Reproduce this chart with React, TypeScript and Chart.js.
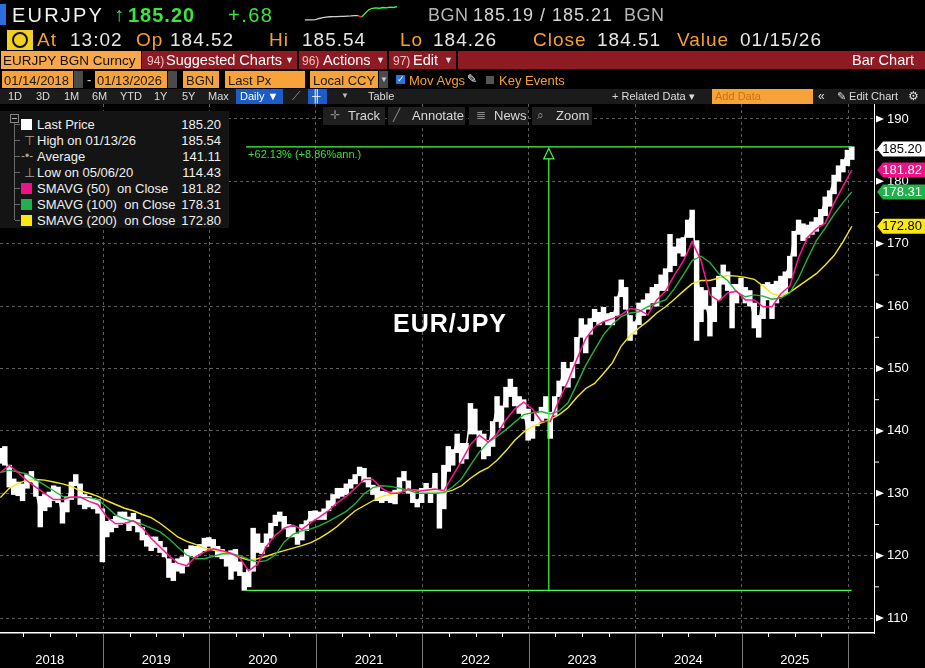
import React, { useEffect, useRef } from "react";
import Chart from "chart.js/auto";

const FONT = "'Liberation Sans', Arial, sans-serif";
const ORANGE = "#f6a02e";
const FIELD = "#f7a33a";
const MAGENTA = "#ff1493";
const GREEN = "#1fb33f";
const YELLOW = "#f7e81c";
const LINE_GREEN = "#45ff45";

// last price, sampled twice a month from 01/14/2018 to 01/13/2026
const PRICE_START = 2018 + 13 / 365;
const lastPx = [
  135.5, 136.3, 132.5, 130.6, 130.8, 130.6, 132.4, 132.6, 130.4, 126.8, 128.8, 128.8,
  130.0, 129.5, 126.5, 128.5, 131.2, 132.2, 129.8, 129.0, 128.5, 128.3, 127.7, 126.5,
  124.3, 124.8, 125.3, 125.9, 126.2, 125.2, 126.0, 124.8, 123.3, 122.4, 122.2, 122.2,
  121.3, 120.5, 118.4, 117.7, 118.5, 118.2, 120.0, 120.8, 120.8, 121.2, 121.8, 122.3,
  121.8, 120.6, 120.3, 119.5, 118.0, 119.5, 117.5, 116.2, 115.8, 119.5, 122.0, 121.0,
  122.5, 124.5, 125.6, 126.2, 125.0, 124.2, 123.8, 122.6, 124.1, 125.2, 126.6, 126.8,
  126.5, 126.8, 128.1, 129.3, 130.0, 130.3, 131.1, 131.6, 132.2, 133.7, 132.9, 131.6,
  130.5, 130.0, 129.7, 129.5, 129.5, 129.0, 131.6, 132.9, 131.1, 129.5, 128.4, 130.0,
  131.1, 130.0, 132.1, 128.9, 129.5, 136.4, 136.1, 138.5, 136.4, 137.2, 142.3, 141.0,
  138.5, 137.0, 137.5, 140.7, 143.9, 142.3, 146.0, 147.1, 145.2, 144.4, 143.1, 139.6,
  140.7, 142.3, 142.8, 143.5, 141.5, 144.4, 147.1, 149.5, 148.5, 150.3, 152.5, 157.3,
  155.0, 157.3, 158.9, 158.3, 158.3, 157.8, 157.8, 161.0, 163.2, 161.0, 156.5, 156.7,
  159.5, 159.4, 160.5, 162.0, 161.0, 164.0, 163.7, 168.0, 168.5, 170.1, 169.8, 173.3,
  174.7, 166.0, 160.5, 160.5, 157.3, 160.5, 164.2, 165.8, 163.7, 161.0, 162.1, 163.2,
  161.6, 161.0, 158.0, 157.0, 162.6, 162.6, 161.0, 162.1, 162.6, 164.8, 166.9, 171.2,
  173.0, 172.2, 172.2, 172.8, 173.3, 174.9, 176.8, 178.0, 180.3, 181.6, 182.9, 184.5,
  185.2,
];
// lows and highs of the same half-month periods
const pxLow = [
  134.8, 134.5, 131.0, 129.8, 129.6, 128.8, 130.8, 131.8, 129.5, 124.6, 127.2, 127.8,
  128.8, 128.5, 125.2, 127.0, 129.0, 131.2, 128.2, 127.5, 127.8, 127.5, 126.8, 119.0,
  123.0, 123.8, 124.5, 125.0, 125.2, 124.0, 124.8, 123.8, 122.5, 121.5, 120.8, 121.3,
  120.5, 119.8, 116.5, 116.0, 117.5, 117.2, 118.3, 120.0, 119.8, 120.3, 120.8, 121.5,
  121.0, 119.8, 119.5, 118.3, 116.2, 117.5, 116.8, 114.43, 115.0, 117.5, 120.5, 120.3,
  121.5, 122.8, 124.8, 125.5, 124.3, 123.0, 123.0, 121.8, 122.5, 124.0, 125.5, 125.8,
  125.8, 125.8, 127.2, 128.0, 129.2, 129.5, 129.8, 130.8, 131.5, 132.8, 131.8, 131.0,
  129.8, 128.8, 128.5, 128.8, 128.5, 128.3, 130.3, 132.0, 130.0, 128.5, 127.8, 128.5,
  130.0, 128.5, 130.0, 124.4, 127.5, 133.5, 134.5, 136.5, 134.8, 135.5, 139.5, 139.5,
  137.5, 135.5, 136.0, 137.5, 141.5, 140.5, 143.8, 145.5, 144.0, 142.8, 142.0, 138.5,
  138.8, 140.8, 141.5, 142.0, 138.8, 142.5, 145.5, 147.2, 147.0, 148.5, 150.8, 155.0,
  152.5, 155.5, 157.5, 157.0, 157.5, 157.0, 157.0, 158.5, 161.5, 159.5, 154.5, 155.5,
  157.0, 158.5, 159.5, 160.5, 160.0, 162.5, 162.5, 165.5, 166.5, 168.5, 168.0, 171.0,
  171.0, 154.5, 157.5, 159.5, 155.2, 157.5, 161.0, 163.5, 162.5, 156.5, 160.5, 161.8,
  160.5, 160.0, 156.5, 155.0, 158.0, 161.0, 158.0, 160.5, 161.5, 162.0, 164.5, 168.0,
  171.5, 170.5, 171.0, 171.5, 172.0, 173.0, 174.5, 176.0, 178.0, 180.0, 181.5, 182.5,
  183.5,
];
const pxHigh = [
  137.2, 137.5, 134.5, 132.3, 131.8, 131.5, 133.0, 133.5, 132.0, 129.5, 129.8, 130.2,
  131.2, 131.0, 128.5, 129.5, 131.8, 133.0, 131.5, 129.8, 129.5, 129.2, 129.0, 127.5,
  125.5, 125.8, 126.3, 127.0, 127.0, 126.2, 126.8, 125.8, 124.5, 123.3, 123.0, 123.0,
  122.3, 121.3, 119.5, 118.8, 119.5, 119.8, 121.0, 121.6, 121.5, 121.8, 122.8, 122.9,
  122.6, 121.5, 121.0, 120.5, 120.8, 121.0, 119.0, 117.3, 117.8, 124.4, 123.5, 122.0,
  123.5, 125.2, 126.5, 127.0, 126.3, 125.0, 124.6, 123.5, 125.0, 125.6, 127.1, 127.2,
  127.0, 127.5, 128.8, 129.8, 130.8, 130.8, 131.5, 132.2, 133.0, 134.2, 134.0, 132.5,
  131.3, 131.0, 130.3, 130.2, 130.2, 130.5, 132.5, 133.5, 132.0, 130.5, 129.0, 130.8,
  131.6, 130.8, 133.2, 130.5, 134.5, 137.5, 137.0, 139.5, 138.0, 138.0, 144.4, 143.5,
  140.0, 139.5, 138.5, 141.5, 145.5, 144.0, 147.0, 148.3, 147.0, 145.5, 145.0, 143.5,
  141.5, 142.8, 143.8, 145.5, 143.0, 145.5, 148.0, 151.0, 150.0, 151.0, 155.0, 158.0,
  157.0, 158.0, 159.5, 159.0, 159.8, 158.8, 159.0, 161.5, 164.2, 163.0, 158.5, 157.5,
  160.5, 161.0, 162.0, 163.0, 163.5, 165.0, 166.0, 171.5, 169.5, 170.8, 171.0, 173.8,
  175.4, 170.5, 163.0, 162.5, 160.0, 163.0, 164.8, 166.6, 165.5, 163.5, 163.5, 164.5,
  163.0, 162.5, 160.5, 158.5, 163.5, 163.8, 163.5, 164.0, 164.8, 165.5, 168.0, 172.0,
  173.8, 173.2, 173.0, 173.5, 174.2, 175.5, 177.5, 178.5, 181.0, 182.5, 183.5, 185.0,
  185.54,
];

// moving averages, sampled monthly from the same start
const sma50 = [
  133.3, 134.5, 133.3, 132.0, 131.0, 130.0, 129.0, 129.0, 129.4, 129.4, 128.7, 128.2,
  126.2, 125.1, 125.2, 125.6, 124.5, 122.8, 121.4, 120.0, 118.8, 118.4, 119.8, 120.6,
  121.1, 120.8, 120.4, 119.6, 117.6, 118.6, 121.5, 123.3, 124.4, 124.9, 124.2, 125.3,
  126.2, 127.2, 128.5, 129.5, 130.8, 132.2, 132.2, 130.8, 130.0, 130.0, 130.7, 130.3,
  130.5, 130.7, 130.4, 132.8, 135.2, 137.8, 139.3, 138.2, 139.5, 141.8, 143.5, 144.6,
  143.5, 141.5, 141.5, 145.0, 148.0, 151.5, 154.8, 156.7, 157.5, 158.0, 158.6, 159.6,
  159.4, 158.6, 161.0, 162.4, 165.0, 167.2, 170.3, 167.3, 161.8, 160.8, 162.1, 162.4,
  161.0, 161.0, 159.9, 159.9, 162.0, 163.2, 167.8, 171.0, 172.4, 173.3, 176.5, 179.2,
  181.82,
];
const sma100 = [
  133.3, 133.7, 133.4, 133.1, 132.2, 131.3, 130.4, 129.5, 129.3, 129.3, 129.3, 129.0,
  127.8, 126.5, 125.9, 125.5, 125.0, 124.4, 123.8, 122.7, 121.4, 120.1, 119.5, 119.5,
  119.9, 120.3, 120.3, 120.0, 119.4, 119.0, 119.2, 120.1, 122.2, 123.4, 124.0, 124.3,
  124.8, 125.5, 126.3, 127.1, 128.3, 129.9, 130.9, 131.2, 131.1, 130.8, 130.5, 130.0,
  130.0, 130.0, 130.1, 131.0, 132.3, 134.5, 136.6, 138.2, 139.1, 140.2, 141.4, 142.6,
  142.9, 143.1, 142.7, 143.2, 144.5, 147.5, 150.5, 153.0, 155.4, 157.1, 158.3, 158.9,
  159.1, 159.9, 160.5, 161.0, 162.8, 165.0, 167.3, 168.0, 167.0, 165.2, 164.1, 162.3,
  161.5, 161.8, 161.6, 161.1, 161.3, 162.1, 164.5, 167.6, 170.5, 172.5, 174.7, 176.6,
  178.31,
];
const sma200 = [
  129.3, 130.8, 131.6, 132.1, 132.2, 132.1, 131.8, 131.5, 131.1, 130.4, 130.0, 129.5,
  128.8, 128.2, 127.6, 127.2, 126.6, 126.1, 125.2, 124.1, 123.0, 122.3, 121.8, 121.2,
  120.9, 120.6, 120.3, 119.7, 119.3, 119.5, 119.9, 120.4, 120.8, 121.2, 121.6, 122.1,
  122.8, 123.7, 124.7, 126.0, 127.2, 128.0, 128.8, 129.5, 129.8, 130.2, 130.5, 130.5,
  130.5, 130.3, 130.1, 130.5, 131.2, 132.4, 133.4, 134.1, 135.3, 136.8, 138.5, 139.8,
  140.7, 141.3, 141.8, 142.6, 143.7, 145.4, 146.8, 147.6, 149.2, 150.9, 153.6, 155.3,
  156.5, 157.6, 158.9, 159.9, 161.1, 162.4, 163.6, 164.1, 164.1, 164.5, 164.9, 164.8,
  164.6, 164.3, 163.2, 162.0, 161.6, 162.2, 163.2, 164.2, 165.2, 166.6, 168.1, 170.3,
  172.8,
];

// intraday sparkline in the header
const spark = [
  184.37, 184.37, 184.38, 184.4, 184.5, 184.57, 184.63, 184.66, 184.67, 184.67, 184.7,
  184.7, 184.72, 184.73, 184.77, 184.77, 184.63, 184.97, 185.3, 185.43, 185.47, 185.43,
  185.5, 185.47, 185.53, 185.5, 185.57,
];
const sparkRedFrom = 15;
const sparkGreenFrom = 16;

const yTicks = [110, 120, 130, 140, 150, 160, 170, 180, 190];
const years = [2018, 2019, 2020, 2021, 2022, 2023, 2024, 2025];
const yearLines = [2019, 2020, 2021, 2022, 2023, 2024, 2025, 2026];

const lowDate = 2020 + 126 / 366;
const highDate = 2026 + 12 / 365;
const periodLow = 114.43;
const periodHigh = 185.54;
const changeText = "+62.13% (+8.86%ann.)";

const tags = [
  { value: 185.2, text: "185.20", bg: "#ffffff", fg: "#000000" },
  { value: 181.82, text: "181.82", bg: "#ec1387", fg: "#ffffff" },
  { value: 178.31, text: "178.31", bg: "#22b04a", fg: "#ffffff" },
  { value: 172.8, text: "172.80", bg: "#fbe80f", fg: "#000000" },
];

const legendRows = [
  { label: "Last Price", value: "185.20", icon: "#ffffff" },
  { label: "High on 01/13/26", value: "185.54", icon: "high" },
  { label: "Average", value: "141.11", icon: "avg" },
  { label: "Low on 05/06/20", value: "114.43", icon: "low" },
  { label: "SMAVG (50)  on Close", value: "181.82", icon: "#ec1387" },
  { label: "SMAVG (100)  on Close", value: "178.31", icon: "#22b04a" },
  { label: "SMAVG (200)  on Close", value: "172.80", icon: "#fbe80f" },
];

const decorPlugin = {
  id: "bbgDecor",
  afterDatasetsDraw(chart: any) {
    const { ctx, scales } = chart;
    const xs = scales.x;
    const ys = scales.y;
    const xa = xs.getPixelForValue(lowDate);
    const xb = xs.getPixelForValue(highDate);
    const ya = ys.getPixelForValue(periodLow);
    const yb = ys.getPixelForValue(periodHigh);
    const xm = (xa + xb) / 2;
    ctx.save();
    ctx.strokeStyle = LINE_GREEN;
    ctx.lineWidth = 1.2;
    ctx.beginPath();
    ctx.moveTo(xa, ya);
    ctx.lineTo(xb, ya);
    ctx.moveTo(xa, yb);
    ctx.lineTo(xb, yb);
    ctx.moveTo(xm, ya);
    ctx.lineTo(xm, yb + 12);
    ctx.stroke();
    ctx.beginPath();
    ctx.moveTo(xm - 5, yb + 12);
    ctx.lineTo(xm, yb + 1.5);
    ctx.lineTo(xm + 5, yb + 12);
    ctx.closePath();
    ctx.stroke();
    ctx.fillStyle = "#38e038";
    ctx.font = `11px ${FONT}`;
    ctx.textBaseline = "top";
    ctx.fillText(changeText, xa + 2, yb + 3);
    ctx.restore();
  },
  afterDraw(chart: any) {
    const { ctx, chartArea: ca, scales, width, height } = chart;
    const xs = scales.x;
    const ys = scales.y;
    ctx.save();

    // right axis markers
    ctx.fillStyle = "#ffffff";
    ctx.strokeStyle = "#ffffff";
    ctx.lineWidth = 1;
    yTicks.forEach((v) => {
      const py = ys.getPixelForValue(v);
      ctx.beginPath();
      ctx.moveTo(ca.right + 2, py - 3.5);
      ctx.lineTo(ca.right + 10, py);
      ctx.lineTo(ca.right + 2, py + 3.5);
      ctx.closePath();
      ctx.fill();
      const pm = ys.getPixelForValue(v + 5);
      if (pm > ca.top) {
        ctx.beginPath();
        ctx.moveTo(ca.right, pm);
        ctx.lineTo(ca.right + 5, pm);
        ctx.stroke();
      }
    });

    // bottom axis: year separators, quarter ticks, labels
    ctx.strokeStyle = "#7a7a7a";
    yearLines.forEach((t) => {
      const px = Math.round(xs.getPixelForValue(t)) + 0.5;
      ctx.beginPath();
      ctx.moveTo(px, ca.bottom);
      ctx.lineTo(px, height);
      ctx.stroke();
    });
    ctx.strokeStyle = "#ffffff";
    years.concat([2026]).forEach((yr) => {
      [0.25, 0.5, 0.75].forEach((q) => {
        const px = Math.round(xs.getPixelForValue(yr + q)) + 0.5;
        if (px < ca.left || px > ca.right) return;
        ctx.beginPath();
        ctx.moveTo(px, ca.bottom);
        ctx.lineTo(px, ca.bottom + 4);
        ctx.stroke();
      });
    });
    ctx.fillStyle = "#ffffff";
    ctx.font = `13px ${FONT}`;
    ctx.textAlign = "center";
    ctx.textBaseline = "middle";
    years.forEach((yr) => {
      ctx.fillText(String(yr), xs.getPixelForValue(yr + 0.5), ca.bottom + 27);
    });

    // value tags on the right axis
    ctx.textAlign = "right";
    ctx.font = `13px ${FONT}`;
    tags.forEach((tag) => {
      const py = ys.getPixelForValue(tag.value);
      ctx.fillStyle = tag.bg;
      ctx.beginPath();
      ctx.moveTo(ca.right + 3, py);
      ctx.lineTo(ca.right + 9, py - 7.5);
      ctx.lineTo(width, py - 7.5);
      ctx.lineTo(width, py + 7.5);
      ctx.lineTo(ca.right + 9, py + 7.5);
      ctx.closePath();
      ctx.fill();
      ctx.fillStyle = tag.fg;
      ctx.fillText(tag.text, width - 3, py + 0.5);
    });
    ctx.restore();
  },
};

const PriceChart: React.FC = () => {
  const chartRef = useRef<HTMLCanvasElement | null>(null);

  useEffect(() => {
    if (!chartRef.current) return;
    const toPoints = (arr: number[], perYear: number) =>
      arr.map((v, i) => ({ x: PRICE_START + i / perYear, y: v }));
    const ranges = pxLow.map((lo, i) => ({ x: PRICE_START + i / 24, y: [lo, pxHigh[i]] }));

    const chart = new Chart(chartRef.current, {
      type: "line",
      data: {
        datasets: [
          { label: "SMAVG (50)", data: toPoints(sma50, 12), borderColor: MAGENTA, borderWidth: 1.5 },
          { label: "SMAVG (100)", data: toPoints(sma100, 12), borderColor: GREEN, borderWidth: 1.4 },
          { label: "SMAVG (200)", data: toPoints(sma200, 12), borderColor: YELLOW, borderWidth: 1.4 },
          { label: "Last Price", data: toPoints(lastPx, 24), borderColor: "#ffffff", borderWidth: 1.5 },
          {
            type: "bar",
            label: "Range",
            data: ranges as any,
            backgroundColor: "#ffffff",
            borderWidth: 0,
            barThickness: 4.8,
          } as any,
        ],
      },
      options: {
        animation: false,
        responsive: true,
        maintainAspectRatio: false,
        events: [],
        elements: { point: { radius: 0 }, line: { tension: 0 } },
        layout: { padding: { top: 104, bottom: 35, left: 0, right: 0 } },
        plugins: { legend: { display: false }, tooltip: { enabled: false } },
        scales: {
          x: {
            type: "linear",
            offset: false,
            min: 2018.032,
            max: 2026.244,
            afterBuildTicks: (s: any) => {
              s.ticks = yearLines.map((v) => ({ value: v }));
            },
            ticks: { display: false },
            grid: { color: "#5c5c5c", drawTicks: false, offset: false },
            border: { color: "#ffffff", width: 1.5, dash: [3, 3] },
          },
          y: {
            position: "right",
            min: 107.6,
            max: 192.4,
            afterBuildTicks: (s: any) => {
              s.ticks = yTicks.map((v) => ({ value: v }));
            },
            afterFit: (s: any) => {
              s.width = 51;
            },
            ticks: { color: "#ffffff", font: { family: FONT, size: 13 }, padding: 13 },
            grid: { color: "#5c5c5c", drawTicks: false },
            border: { color: "#ffffff", width: 1, dash: [3, 3] },
          },
        },
      },
      plugins: [decorPlugin],
    });

    return () => {
      chart.destroy();
    };
  }, []);

  return <canvas ref={chartRef} />;
};

const Sparkline: React.FC = () => {
  const sparkRef = useRef<HTMLCanvasElement | null>(null);

  useEffect(() => {
    if (!sparkRef.current) return;
    const chart = new Chart(sparkRef.current, {
      type: "line",
      data: {
        labels: spark.map((_, i) => i),
        datasets: [
          {
            data: spark,
            borderWidth: 1.3,
            pointRadius: 0,
            borderColor: "#d0d0d0",
            segment: {
              borderColor: (c: any) =>
                c.p0DataIndex >= sparkGreenFrom ? "#3cff3c" : c.p0DataIndex >= sparkRedFrom ? "#ff3030" : "#cfcfcf",
            },
          },
        ],
      },
      options: {
        animation: false,
        responsive: false,
        events: [],
        layout: { padding: 1 },
        scales: { x: { display: false }, y: { display: false } },
        plugins: { legend: { display: false }, tooltip: { enabled: false } },
      },
    });
    return () => {
      chart.destroy();
    };
  }, []);

  return <canvas ref={sparkRef} width={94} height={24} />;
};

const T: React.FC<{ x: number; y: number; c?: string; s?: number; b?: boolean; ls?: number; children: React.ReactNode }> = ({
  x,
  y,
  c = "#e8e8e8",
  s = 13,
  b = false,
  ls = 0,
  children,
}) => (
  <span
    style={{
      position: "absolute",
      left: x,
      top: y,
      color: c,
      fontSize: s,
      fontWeight: b ? "bold" : "normal",
      letterSpacing: ls,
      whiteSpace: "pre",
      lineHeight: 1,
    }}
  >
    {children}
  </span>
);

const Box: React.FC<{ x: number; y: number; w: number; h: number; bg: string; children?: React.ReactNode }> = ({
  x,
  y,
  w,
  h,
  bg,
  children,
}) => <div style={{ position: "absolute", left: x, top: y, width: w, height: h, background: bg }}>{children}</div>;

const Header: React.FC = () => (
  <>
    {/* row 1 */}
    <Box x={0} y={4} w={6} h={21} bg="#2c6fdc" />
    <T x={12} y={5} s={20} ls={2.2} c="#f2f2f2">EURJPY</T>
    <T x={114} y={4} s={20} c="#39e639">↑</T>
    <T x={128} y={5} s={20} b ls={1} c="#39e639">185.20</T>
    <T x={228} y={5} s={20} ls={1.5} c="#39e639">+.68</T>
    <div style={{ position: "absolute", left: 304, top: 1 }}>
      <Sparkline />
    </div>
    <T x={428} y={6} s={18} ls={0.5} c="#b5b5b5">BGN</T>
    <T x={473} y={6} s={18} ls={1} c="#d6d6d6">185.19 / 185.21</T>
    <T x={624} y={6} s={18} ls={0.5} c="#b5b5b5">BGN</T>

    {/* row 2 */}
    <Box x={7} y={30} w={26} h={20} bg="#f0d020">
      <div
        style={{
          position: "absolute",
          left: 5,
          top: 2,
          width: 12,
          height: 12,
          border: "2px solid #111",
          borderRadius: "50%",
        }}
      />
    </Box>
    <T x={37} y={30} s={19} ls={1} c={ORANGE}>At</T>
    <T x={70} y={30} s={19} ls={1} c="#e6e6e6">13:02</T>
    <T x={136} y={30} s={19} ls={1} c={ORANGE}>Op</T>
    <T x={170} y={30} s={19} ls={1} c="#e6e6e6">184.52</T>
    <T x={269} y={30} s={19} ls={1} c={ORANGE}>Hi</T>
    <T x={302} y={30} s={19} ls={1} c="#e6e6e6">185.54</T>
    <T x={400} y={30} s={19} ls={1} c={ORANGE}>Lo</T>
    <T x={433} y={30} s={19} ls={1} c="#e6e6e6">184.26</T>
    <T x={533} y={30} s={19} ls={1} c={ORANGE}>Close</T>
    <T x={597} y={30} s={19} ls={1} c="#e6e6e6">184.51</T>
    <T x={677} y={30} s={19} ls={1} c={ORANGE}>Value</T>
    <T x={740} y={30} s={19} ls={1} c="#e6e6e6">01/15/26</T>

    {/* row 3 */}
    <Box x={1} y={51} w={140} h={18} bg="#f7a84a" />
    <T x={3} y={54} s={13.5} c="#111">EURJPY BGN Curncy</T>
    <Box x={142} y={51} w={783} h={18} bg="#8e1b23" />
    <Box x={297} y={51} w={2} h={18} bg="#000" />
    <Box x={387} y={51} w={2} h={18} bg="#000" />
    <Box x={456} y={51} w={2} h={18} bg="#000" />
    <T x={147} y={55} s={12} c="#f0c0c0">94)</T>
    <T x={166} y={53} s={14.5} c="#ffffff">Suggested Charts</T>
    <T x={285} y={56} s={9} c="#e0e0e0">▼</T>
    <T x={302} y={55} s={12} c="#f0c0c0">96)</T>
    <T x={323} y={53} s={14.5} c="#ffffff">Actions</T>
    <T x={376} y={56} s={9} c="#e0e0e0">▼</T>
    <T x={393} y={55} s={12} c="#f0c0c0">97)</T>
    <T x={413} y={53} s={14.5} c="#ffffff">Edit</T>
    <T x={444} y={56} s={9} c="#e0e0e0">▼</T>
    <T x={852} y={53} s={14.5} c="#ffffff">Bar Chart</T>

    {/* row 4 */}
    <Box x={2} y={71} w={71} h={17} bg={FIELD} />
    <T x={4} y={74} s={13} c="#1a1a1a">01/14/2018</T>
    <Box x={74} y={71} w={9} h={17} bg="#4a4a4a" />
    <T x={87} y={73} s={13} c="#e0e0e0">-</T>
    <Box x={95} y={71} w={72} h={17} bg={FIELD} />
    <T x={97} y={74} s={13} c="#1a1a1a">01/13/2026</T>
    <Box x={168} y={71} w={9} h={17} bg="#4a4a4a" />
    <Box x={183} y={71} w={36} h={17} bg={FIELD} />
    <T x={186} y={74} s={13} c="#1a1a1a">BGN</T>
    <Box x={225} y={71} w={80} h={17} bg={FIELD} />
    <T x={228} y={74} s={13} c="#1a1a1a">Last Px</T>
    <Box x={310} y={71} w={68} h={17} bg={FIELD} />
    <T x={313} y={74} s={13} c="#1a1a1a">Local CCY</T>
    <Box x={379} y={71} w={9} h={17} bg="#4a4a4a" />
    <T x={380} y={76} s={8} c="#cccccc">▼</T>
    <Box x={396} y={75} w={9} h={9} bg="#2a74d8" />
    <T x={397} y={75} s={9} c="#ffffff">✓</T>
    <T x={409} y={74} s={13} c={ORANGE}>Mov Avgs</T>
    <T x={467} y={73} s={12} c="#ffffff">✎</T>
    <Box x={486} y={76} w={8} h={8} bg="#555555" />
    <T x={499} y={74} s={13} c={ORANGE}>Key Events</T>

    {/* row 5 */}
    <Box x={0} y={89} w={925} h={15} bg="#1b1b1b" />
    <T x={8} y={91} s={11} c="#dcdcdc">1D</T>
    <T x={36} y={91} s={11} c="#dcdcdc">3D</T>
    <T x={64} y={91} s={11} c="#dcdcdc">1M</T>
    <T x={92} y={91} s={11} c="#dcdcdc">6M</T>
    <T x={120} y={91} s={11} c="#dcdcdc">YTD</T>
    <T x={154} y={91} s={11} c="#dcdcdc">1Y</T>
    <T x={182} y={91} s={11} c="#dcdcdc">5Y</T>
    <T x={208} y={91} s={11} c="#dcdcdc">Max</T>
    <Box x={236} y={89} w={47} h={15} bg="#1d5cc7" />
    <T x={240} y={91} s={11} c="#ffffff">Daily ▼</T>
    <T x={292} y={90} s={12} c="#9a9a9a">⟋</T>
    <Box x={308} y={89} w={19} h={15} bg="#1d5cc7" />
    <T x={312} y={90} s={12} c="#ffffff">╫</T>
    <T x={341} y={92} s={8} c="#bbbbbb">▼</T>
    <T x={368} y={91} s={11} c="#dcdcdc">Table</T>
    <T x={612} y={91} s={11} c="#dcdcdc">+ Related Data ▾</T>
    <Box x={712} y={89} w={101} h={15} bg={FIELD} />
    <T x={715} y={91} s={11} c="#c87410">Add Data</T>
    <T x={818} y={90} s={12} c="#dcdcdc">«</T>
    <T x={837} y={91} s={11} c="#dcdcdc">✎ Edit Chart</T>
    <T x={908} y={90} s={12} c="#dcdcdc">⚙</T>
  </>
);

const Legend: React.FC = () => (
  <div style={{ position: "absolute", left: 0, top: 111, width: 229, height: 117, background: "#141414" }}>
    <div
      style={{
        position: "absolute",
        left: 10,
        top: 3,
        width: 7,
        height: 7,
        border: "1px solid #888",
      }}
    >
      <div style={{ position: "absolute", left: 1, top: 3, width: 5, height: 1, background: "#aaa" }} />
    </div>
    <div style={{ position: "absolute", left: 14, top: 12, width: 1, height: 97, background: "#6a6a6a" }} />
    {legendRows.map((row, k) => {
      const top = 7 + 16 * k;
      let icon: React.ReactNode;
      if (row.icon === "high") icon = <T x={24} y={top} s={13} c="#a0a0a0">⊤</T>;
      else if (row.icon === "avg") icon = <T x={21} y={top} s={12} c="#a0a0a0">-•-</T>;
      else if (row.icon === "low") icon = <T x={24} y={top} s={13} c="#a0a0a0">⊥</T>;
      else icon = <Box x={21} y={top + 1} w={11} h={11} bg={row.icon} />;
      return (
        <React.Fragment key={row.label}>
          <div style={{ position: "absolute", left: 15, top: top + 6, width: 5, height: 1, background: "#6a6a6a" }} />
          {icon}
          <T x={37} y={top} s={13} c="#f0f0f0">{row.label}</T>
          <span
            style={{
              position: "absolute",
              right: 8,
              top,
              color: "#f0f0f0",
              fontSize: 13,
              lineHeight: 1,
            }}
          >
            {row.value}
          </span>
        </React.Fragment>
      );
    })}
  </div>
);

const Toolbar: React.FC = () => (
  <>
    <Box x={323} y={107} w={62} h={18} bg="#1f1f1f" />
    <T x={330} y={109} s={12} c="#8a8a8a">✛</T>
    <T x={348} y={109} s={13} c="#d8d8d8">Track</T>
    <Box x={388} y={107} w={77} h={18} bg="#1f1f1f" />
    <T x={393} y={109} s={12} c="#8a8a8a">╱</T>
    <T x={412} y={109} s={13} c="#d8d8d8">Annotate</T>
    <Box x={469} y={107} w={59} h={18} bg="#1f1f1f" />
    <T x={476} y={109} s={12} c="#8a8a8a">≣</T>
    <T x={494} y={109} s={13} c="#d8d8d8">News</T>
    <Box x={532} y={107} w={60} h={18} bg="#1f1f1f" />
    <T x={537} y={109} s={12} c="#8a8a8a">⌕</T>
    <T x={556} y={109} s={13} c="#d8d8d8">Zoom</T>
  </>
);

const App: React.FC = () => (
  <div
    style={{
      position: "fixed",
      left: 0,
      top: 0,
      width: 925,
      height: 668,
      background: "#000",
      overflow: "hidden",
      fontFamily: FONT,
    }}
  >
    <div style={{ position: "absolute", left: 0, top: 0, width: 925, height: 668 }}>
      <PriceChart />
    </div>
    <Header />
    <Toolbar />
    <Legend />
    <span
      style={{
        position: "absolute",
        left: 393,
        top: 311,
        color: "#ffffff",
        fontSize: 25,
        fontWeight: "bold",
        letterSpacing: 1,
        lineHeight: 1,
      }}
    >
      EUR/JPY
    </span>
  </div>
);

export default App;
